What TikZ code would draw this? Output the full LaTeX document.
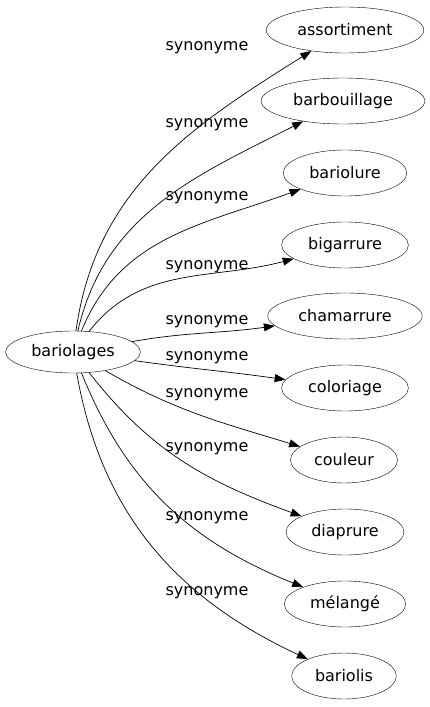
\documentclass[tikz,border=0pt]{standalone}
\usepackage{fontspec}
\setmainfont{DejaVu Sans}
\usetikzlibrary{shapes.geometric,arrows.meta}

\begin{document}
\begin{tikzpicture}[x=1pt,y=1pt,
    word/.style={ellipse,draw,inner xsep=8pt,minimum height=46pt,font=\fontsize{16}{19}\selectfont},
    rel/.style={font=\fontsize{16}{19}\selectfont},
    syn/.style={-{Triangle[length=11pt,width=8pt]},line width=0.7pt}]
    \useasboundingbox (0,0) rectangle (429,-707);

    \node[word,inner xsep=6pt,minimum height=42pt] (bariolages) at (73,-352) {bariolages};

    \node[word] (assortiment) at (345,-30) {assortiment};
    \node[word] (barbouillage) at (343,-101) {barbouillage};
    \node[word] (bariolure) at (345,-173) {bariolure};
    \node[word] (bigarrure) at (345,-245) {bigarrure};
    \node[word] (chamarrure) at (345,-316) {chamarrure};
    \node[word] (coloriage) at (345,-388) {coloriage};
    \node[word] (couleur) at (344,-460) {couleur};
    \node[word] (diaprure) at (345,-532) {diaprure};
    \node[word] (melange) at (345,-604) {mélangé};
    \node[word] (bariolis) at (344,-676) {bariolis};

    \foreach \tgt/\a/\b in {assortiment/82/212,barbouillage/77/207,bariolure/68/200,
        bigarrure/52/195,chamarrure/10/188,coloriage/-8/172,couleur/-30/163,
        diaprure/-52/160,melange/-68/158,bariolis/-80/155}
    \draw[syn] (bariolages) to[out=\a,in=\b] (\tgt);

    % edge labels
    \node[rel] (lab1) at (207,-48) {synonyme};
    \node[rel] (lab2) at (207,-125) {synonyme};
    \node[rel] (lab3) at (207,-198) {synonyme};
    \node[rel] (lab4) at (207,-267) {synonyme};
    \node[rel] (lab5) at (207,-322) {synonyme};
    \node[rel] (lab6) at (207,-358) {synonyme};
    \node[rel] (lab7) at (207,-395) {synonyme};
    \node[rel] (lab8) at (207,-449) {synonyme};
    \node[rel] (lab9) at (207,-518) {synonyme};
    \node[rel] (lab10) at (207,-593) {synonyme};
\end{tikzpicture}
\end{document}
